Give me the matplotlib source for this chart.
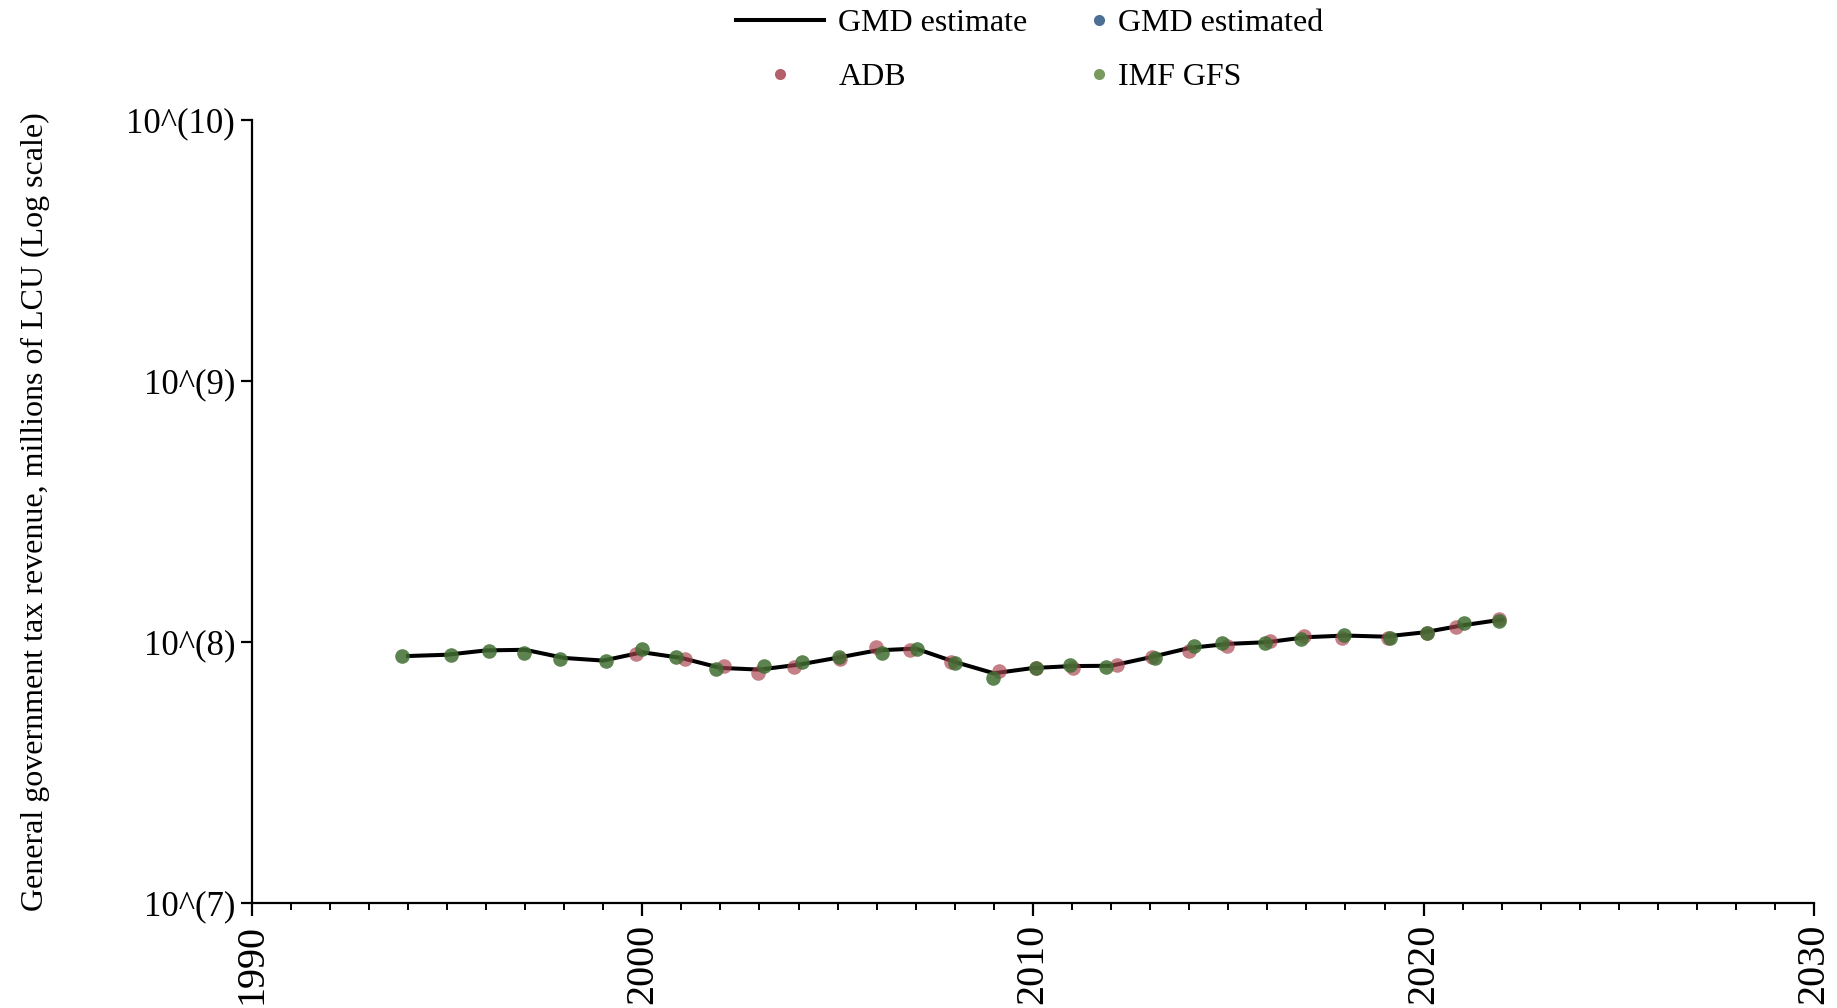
import matplotlib
matplotlib.use("Agg")
import matplotlib.pyplot as plt
from matplotlib.lines import Line2D
from matplotlib.ticker import FixedLocator, MultipleLocator, NullLocator

plt.rcParams['font.family'] = ['Liberation Serif', 'DejaVu Serif']

# GMD estimate (line)
gmd_years = [1994, 1995, 1996, 1997, 1998, 1999, 2000, 2001, 2002, 2003, 2004,
             2005, 2006, 2007, 2008, 2009, 2010, 2011, 2012, 2013, 2014, 2015,
             2016, 2017, 2018, 2019, 2020, 2021, 2022]
gmd_values = [8.85e7, 8.95e7, 9.3e7, 9.35e7, 8.7e7, 8.5e7, 9.15e7, 8.7e7, 7.97e7,
              7.85e7, 8.2e7, 8.72e7, 9.3e7, 9.45e7, 8.4e7, 7.6e7, 7.96e7, 8.1e7,
              8.12e7, 8.75e7, 9.5e7, 9.85e7, 1.0e8, 1.045e8, 1.06e8, 1.05e8,
              1.09e8, 1.16e8, 1.22e8]

# ADB source points (years as plotted, slightly jittered)
adb_years = [1999.84, 2001.09, 2002.09, 2002.97, 2003.88, 2005.06, 2005.98, 2006.85,
             2007.89, 2009.13, 2010.09, 2011.03, 2012.14, 2013.04, 2014.0, 2014.96,
             2016.06, 2016.93, 2017.90, 2019.10, 2020.10, 2020.84, 2021.93]
adb_values = [9.04e7, 8.65e7, 8.07e7, 7.62e7, 8.02e7, 8.65e7, 9.6e7, 9.36e7,
              8.43e7, 7.74e7, 7.96e7, 7.96e7, 8.15e7, 8.81e7, 9.29e7, 9.66e7,
              1.01e8, 1.057e8, 1.035e8, 1.04e8, 1.085e8, 1.14e8, 1.23e8]

# IMF GFS source points
imf_years = [1993.84, 1995.09, 1996.08, 1996.97, 1997.89, 1999.06, 1999.98, 2000.86,
             2001.88, 2003.12, 2004.10, 2005.04, 2006.14, 2007.04, 2008.0, 2008.97,
             2010.07, 2010.94, 2011.88, 2013.12, 2014.12, 2014.85, 2015.93, 2016.85,
             2017.96, 2019.13, 2020.10, 2021.04, 2021.93]
imf_values = [8.85e7, 8.9e7, 9.27e7, 9.06e7, 8.65e7, 8.46e7, 9.44e7, 8.77e7,
              7.87e7, 8.1e7, 8.39e7, 8.77e7, 9.1e7, 9.44e7, 8.34e7, 7.28e7,
              7.96e7, 8.15e7, 8.02e7, 8.69e7, 9.66e7, 9.92e7, 9.92e7, 1.03e8,
              1.065e8, 1.04e8, 1.085e8, 1.18e8, 1.2e8]

y_ticks = [1e7, 1e8, 1e9, 1e10]
y_tick_labels = ["10^(7)", "10^(8)", "10^(9)", "10^(10)"]
x_ticks = [1990, 2000, 2010, 2020, 2030]

red = '#a8434f'
green = '#3f6d31'
blue = '#4d6f94'

fig = plt.figure(figsize=(18.37, 10.08), dpi=100)
ax = fig.add_axes([0.137, 0.1039, 0.8506, 0.7771])

ax.plot(gmd_years, gmd_values, color='black', lw=2.9, zorder=2)
ax.plot(adb_years, adb_values, 'o', color=red, alpha=0.68, ms=10.5, mew=0, zorder=3)
ax.plot(imf_years, imf_values, 'o', color=green, alpha=0.85, ms=10.5, mew=0, zorder=4)

ax.set_yscale('log')
ax.set_ylim(1e7, 1e10)
ax.set_xlim(1990, 2030)
ax.yaxis.set_major_locator(FixedLocator(y_ticks))
ax.set_yticklabels(y_tick_labels)
ax.yaxis.set_minor_locator(NullLocator())
ax.xaxis.set_major_locator(FixedLocator(x_ticks))
ax.xaxis.set_minor_locator(MultipleLocator(1))

for s in ['top', 'right']:
    ax.spines[s].set_visible(False)
for s in ['left', 'bottom']:
    ax.spines[s].set_linewidth(1.6)
    ax.spines[s].set_color('black')

ax.tick_params(axis='y', which='major', length=8, width=1.6, labelsize=25, pad=4)
ax.tick_params(axis='x', which='major', length=9, width=1.6, labelsize=29, pad=6,
               labelrotation=90)
ax.tick_params(axis='x', which='minor', length=5, width=1.4)

ax.set_ylabel("General government tax revenue, millions of LCU (Log scale)",
              fontsize=23)
ax.yaxis.set_label_coords(-0.129, 0.5)

h_line = Line2D([], [], color='black', lw=2.9)
h_adb = Line2D([], [], ls='none', marker='o', color='#b5606a', ms=8, mew=0)
h_est = Line2D([], [], ls='none', marker='o', color=blue, ms=8, mew=0)
h_imf = Line2D([], [], ls='none', marker='o', color='#7a9a60', ms=8, mew=0)

leg1 = fig.legend([h_line, h_adb], ["GMD estimate", "ADB"], loc='upper left',
                  bbox_to_anchor=(0.4007, 0.991), frameon=False, fontsize=23,
                  handlelength=2.75, handletextpad=0.45, labelspacing=0.75,
                  borderpad=0, borderaxespad=0)
leg2 = fig.legend([h_est, h_imf], ["GMD estimated", "IMF GFS"], loc='upper left',
                  bbox_to_anchor=(0.594, 0.991), frameon=False, fontsize=23,
                  handlelength=0.5, handletextpad=0.35, labelspacing=0.75,
                  borderpad=0, borderaxespad=0)

fig.savefig("out.png", dpi=100)
